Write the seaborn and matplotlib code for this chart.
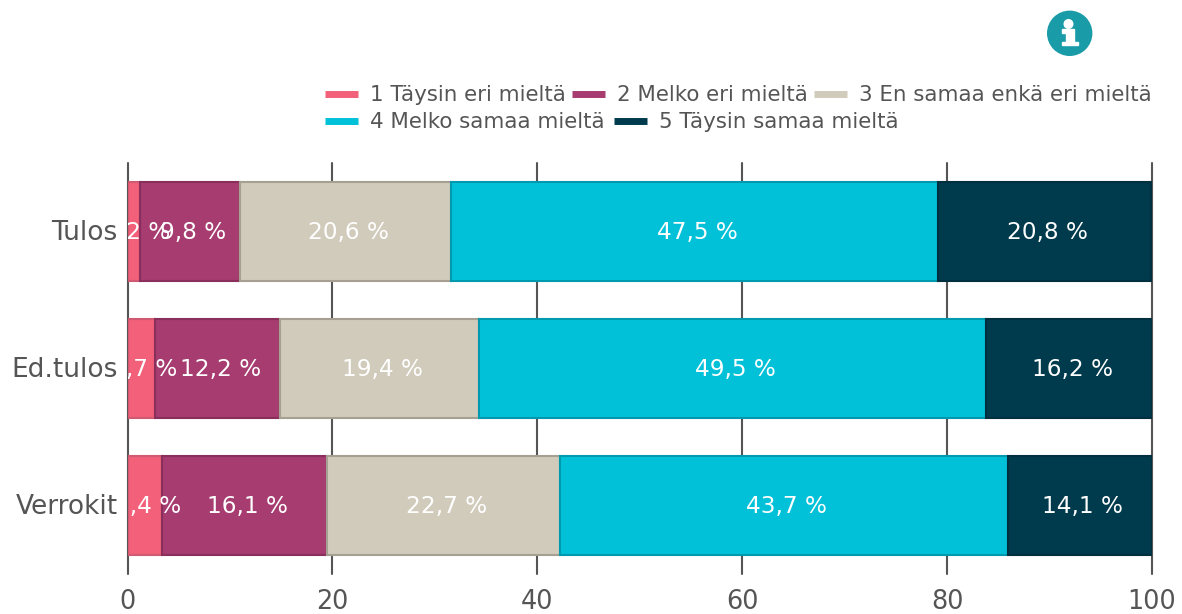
import matplotlib
matplotlib.use('Agg')
import matplotlib.pyplot as plt
from matplotlib.lines import Line2D
from matplotlib.patches import Circle, Rectangle
from matplotlib.transforms import IdentityTransform, ScaledTranslation, offset_copy
import numpy as np
import pandas as pd
import seaborn as sns

# Values
groups = ['Tulos', 'Ed.tulos', 'Verrokit']
answers = ['1 Täysin eri mieltä', '2 Melko eri mieltä', '3 En samaa enkä eri mieltä',
           '4 Melko samaa mieltä', '5 Täysin samaa mieltä']
val_1 = [1.2, 2.7, 3.4]
val_2 = [9.8, 12.2, 16.1]
val_3 = [20.6, 19.4, 22.7]
val_4 = [47.5, 49.5, 43.7]
val_5 = [20.8, 16.2, 14.1]
xticks = [0, 20, 40, 60, 80, 100]

colors = ['#f26079', '#a63c6f', '#d1cbbc', '#00c1d8', '#003a4d']
edges = ['#d05a72', '#8a2f5c', '#a5a092', '#0099ad', '#00303f']
grey = '#555555'
icon_col = '#1a9ba8'

sns.set_style('white')
plt.rcParams['font.family'] = ['DejaVu Sans']

W, H = 1182, 614
fig = plt.figure(figsize=(W / 100, H / 100), dpi=100)
ax = fig.add_axes([127.5 / W, 1 - 574 / H, (1152 - 127.5) / W, (574 - 163) / H])

label_trans = offset_copy(ax.transData, fig=fig, x=3, y=-1, units='dots')
series = [val_1, val_2, val_3, val_4, val_5]
left = np.zeros(len(groups))
for vals, name, col, edge in zip(series, answers, colors, edges):
    df = pd.DataFrame({'group': groups, 'value': vals})
    sns.barplot(data=df, x='value', y='group', order=groups, orient='y', left=left,
                color=col, saturation=1, width=0.72, errorbar=None,
                edgecolor=edge, linewidth=1.5, ax=ax, zorder=2)
    for i, v in enumerate(vals):
        label = f'{v:.1f} %'.replace('.', ',')
        ax.text(left[i] + v / 2, i, label, color='white', fontsize=16.7,
                ha='center', va='center', clip_on=True, zorder=3, transform=label_trans)
    left = left + np.array(vals)

ax.set_xlim(0, 100)
ax.set_ylim(2.5, -0.5)
ax.set_xticks(xticks)
ax.set_xlabel('')
ax.set_ylabel('')
ax.set_axisbelow(True)
ax.grid(axis='x', color=grey, linewidth=1.5)
ax.grid(axis='y', visible=False)
for line in ax.get_xgridlines():
    line.set_clip_on(False)
sns.despine(ax=ax, left=True, bottom=True)
ax.tick_params(axis='x', length=0, pad=11, labelsize=18.4, labelcolor=grey)
ax.tick_params(axis='y', length=0, pad=7, labelsize=19, labelcolor=grey)
for lab in ax.get_yticklabels():
    lab.set_transform(lab.get_transform() + ScaledTranslation(0, 1.0 / 72, fig.dpi_scale_trans))

# Legend flows over two rows, so one legend per row
handles = [Line2D([], [], color=c, linewidth=5, solid_capstyle='butt') for c in colors]
row_kw = dict(frameon=False, fontsize=15.4, labelcolor=grey, handlelength=1.545,
              handletextpad=0.55, borderpad=0, borderaxespad=0, loc='center left')
fig.legend(handles[:3], answers[:3], ncol=3, columnspacing=0.3,
           bbox_to_anchor=(325 / W, 1 - 95 / H), **row_kw)
fig.legend(handles[3:], answers[3:], ncol=2, columnspacing=0.45,
           bbox_to_anchor=(325 / W, 1 - 122 / H), **row_kw)

# Info icon, drawn in pixels
px = IdentityTransform()
fig.add_artist(Circle((1069.7, H - 33.3), 22, color=icon_col, transform=px))
fig.add_artist(Circle((1068.5, H - 24), 4.3, color='white', transform=px))
fig.add_artist(Rectangle((1066, H - 42), 8, 13, color='white', transform=px))
fig.add_artist(Rectangle((1062, H - 33), 5, 4, color='white', transform=px))
fig.add_artist(Rectangle((1061.7, H - 45), 16, 3.5, color='white', transform=px))

fig.savefig('out.png', dpi=100)
